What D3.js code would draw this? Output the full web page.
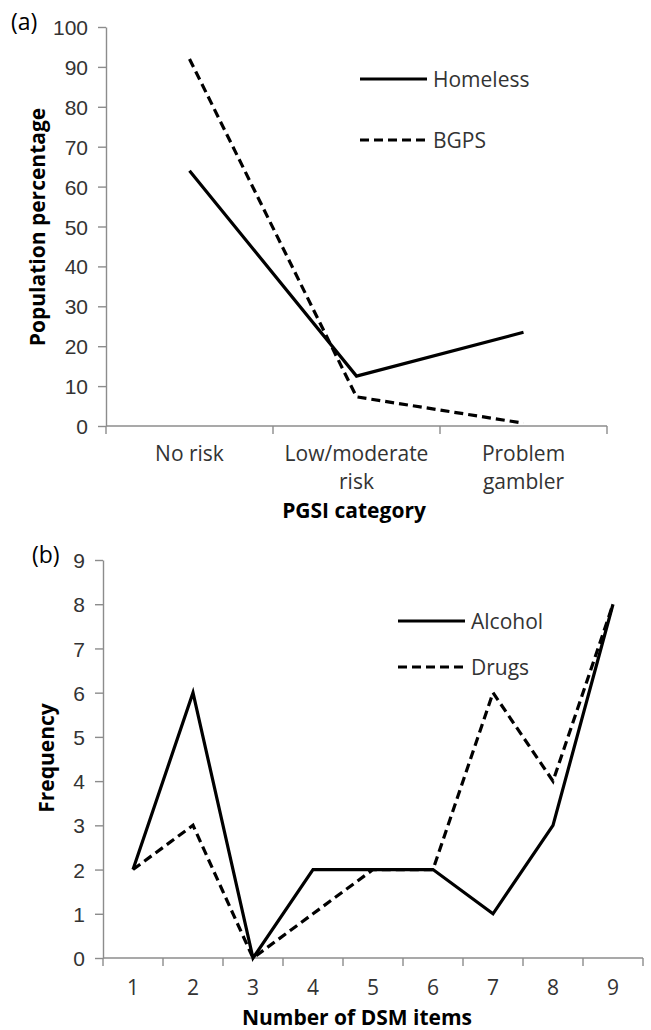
<!DOCTYPE html>
<html>
<head>
<meta charset="utf-8">
<script src="https://cdn.jsdelivr.net/npm/d3@7"></script>
<style>
  body { margin: 0; background: #fff; }
  svg { font-family: "Open Sans", sans-serif; }
</style>
</head>
<body>
<svg id="drawing_region"></svg>
<script>
// panel (a)
const pgsiCategories = ['No risk', 'Low/moderate risk', 'Problem gambler'];
const pgsiTickLabels = [['No risk'], ['Low/moderate', 'risk'], ['Problem', 'gambler']];
const homeless = [64, 12.5, 23.5];
const bgps = [92, 7.3, 0.7];
const pctTicks = [0, 10, 20, 30, 40, 50, 60, 70, 80, 90, 100];

// panel (b)
const dsmItems = ['1', '2', '3', '4', '5', '6', '7', '8', '9'];
const alcohol = [2, 6, 0, 2, 2, 2, 1, 3, 8];
const drugs = [2, 3, 0, 1, 2, 2, 6, 4, 8];
const freqTicks = [0, 1, 2, 3, 4, 5, 6, 7, 8, 9];

const svg = d3.select('#drawing_region')
    .attr('width', 651)
    .attr('height', 1030);

const axisColor = '#8c8c8c';
const labelColor = '#333';

function drawPanel(cfg) {
    const xscale = d3.scaleBand()
        .domain(cfg.categories)
        .range([cfg.left, cfg.right]);
    const yscale = d3.scaleLinear()
        .domain(cfg.ydomain)
        .range([cfg.bottom, cfg.top]);

    // y axis
    const yaxis = d3.axisLeft(yscale)
        .tickValues(cfg.yticks)
        .tickSize(8)
        .tickPadding(10)
        .tickSizeOuter(0);
    const yg = svg.append('g')
        .attr('transform', `translate(${cfg.left},0)`)
        .call(yaxis);
    yg.select('.domain').attr('stroke', axisColor).attr('stroke-width', 1.4);
    yg.selectAll('.tick line').attr('stroke', axisColor).attr('stroke-width', 1.4);
    yg.selectAll('.tick text')
        .attr('fill', labelColor)
        .style('font-size', '21px')
        .attr('dy', '0.36em');

    // x axis line + ticks on the category edges
    svg.append('line')
        .attr('x1', cfg.left).attr('x2', cfg.right)
        .attr('y1', cfg.bottom).attr('y2', cfg.bottom)
        .attr('stroke', axisColor).attr('stroke-width', 1.4);
    const last = cfg.categories[cfg.categories.length - 1];
    const edges = cfg.categories.map(c => xscale(c)).concat([xscale(last) + xscale.bandwidth()]);
    svg.append('g').selectAll('line')
        .data(edges)
        .join('line')
        .attr('x1', d => d).attr('x2', d => d)
        .attr('y1', cfg.bottom).attr('y2', cfg.bottom + 8)
        .attr('stroke', axisColor).attr('stroke-width', 1.4);

    // x tick labels (may wrap on two lines)
    const xl = svg.append('g').selectAll('text')
        .data(cfg.categories)
        .join('text')
        .attr('y', cfg.bottom + cfg.xlabelOffset)
        .attr('text-anchor', 'middle')
        .attr('fill', labelColor)
        .style('font-size', '21px');
    xl.each(function(d, i) {
        d3.select(this).selectAll('tspan')
            .data(cfg.tickLabels[i])
            .join('tspan')
            .attr('x', xscale(d) + xscale.bandwidth() / 2)
            .attr('dy', (l, j) => j === 0 ? 0 : 28)
            .text(l => l);
    });

    // lines
    const line = d3.line()
        .x((d, i) => xscale(cfg.categories[i]) + xscale.bandwidth() / 2)
        .y(d => yscale(d));
    cfg.series.forEach(s => {
        svg.append('path')
            .datum(s.values)
            .attr('fill', 'none')
            .attr('stroke', '#000')
            .attr('stroke-width', 3.2)
            .attr('stroke-dasharray', s.dashed ? '9,5' : null)
            .attr('d', line);
    });

    // legend
    cfg.series.forEach((s, i) => {
        const ly = cfg.legend.y + i * cfg.legend.step;
        svg.append('line')
            .attr('x1', cfg.legend.x).attr('x2', cfg.legend.x + 67)
            .attr('y1', ly).attr('y2', ly)
            .attr('stroke', '#000')
            .attr('stroke-width', 3.2)
            .attr('stroke-dasharray', s.dashed ? '9,5' : null);
        svg.append('text')
            .attr('x', cfg.legend.x + 73)
            .attr('y', ly)
            .attr('dy', '0.36em')
            .attr('fill', labelColor)
            .style('font-size', '21px')
            .text(s.name);
    });

    // axis titles
    svg.append('text')
        .attr('transform', 'rotate(-90)')
        .attr('x', -cfg.ytitle.y)
        .attr('y', cfg.ytitle.x)
        .attr('dy', '0.36em')
        .attr('text-anchor', 'middle')
        .style('font-size', '21px')
        .style('font-weight', 'bold')
        .text(cfg.ytitle.text);
    svg.append('text')
        .attr('x', cfg.xtitle.x)
        .attr('y', cfg.xtitle.y)
        .attr('dy', '0.36em')
        .attr('text-anchor', 'middle')
        .style('font-size', '21px')
        .style('font-weight', 'bold')
        .text(cfg.xtitle.text);

    // panel letter
    svg.append('text')
        .attr('x', cfg.letter.x)
        .attr('y', cfg.letter.y)
        .attr('dy', '0.36em')
        .style('font-size', '23px')
        .text(cfg.letter.text);
}

drawPanel({
    categories: pgsiCategories,
    tickLabels: pgsiTickLabels,
    ydomain: [0, 100],
    yticks: pctTicks,
    left: 106, right: 607, top: 27, bottom: 426,
    xlabelOffset: 35,
    series: [
        {name: 'Homeless', values: homeless, dashed: false},
        {name: 'BGPS', values: bgps, dashed: true}
    ],
    legend: {x: 360, y: 79, step: 61},
    ytitle: {text: 'Population percentage', x: 37, y: 227},
    xtitle: {text: 'PGSI category', x: 354, y: 510},
    letter: {text: '(a)', x: 11, y: 22}
});

drawPanel({
    categories: dsmItems,
    tickLabels: dsmItems.map(d => [d]),
    ydomain: [0, 9],
    yticks: freqTicks,
    left: 103, right: 643, top: 560, bottom: 958,
    xlabelOffset: 37,
    series: [
        {name: 'Alcohol', values: alcohol, dashed: false},
        {name: 'Drugs', values: drugs, dashed: true}
    ],
    legend: {x: 398, y: 621, step: 46},
    ytitle: {text: 'Frequency', x: 46, y: 758},
    xtitle: {text: 'Number of DSM items', x: 357, y: 1017},
    letter: {text: '(b)', x: 32, y: 555}
});
</script>
</body>
</html>
